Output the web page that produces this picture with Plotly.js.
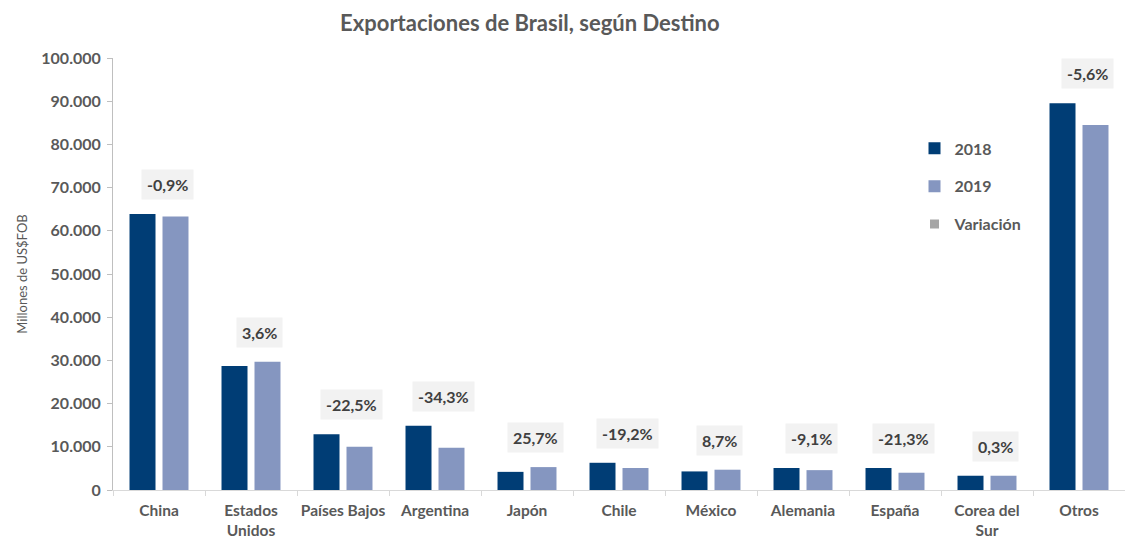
<!DOCTYPE html>
<html>
<head>
<meta charset="utf-8">
<script src="https://cdn.plot.ly/plotly-3.0.1.min.js"></script>
<style>html,body{margin:0;padding:0;background:#fff;}#chart{width:1125px;height:541px;}</style>
</head>
<body>
<div id="chart"></div>
<script>
const categories = ['China', 'Estados<br>Unidos', 'Países Bajos', 'Argentina', 'Japón', 'Chile', 'México', 'Alemania', 'España', 'Corea del<br>Sur', 'Otros'];
const exp2018 = [63900, 28700, 12900, 14900, 4200, 6300, 4300, 5100, 5100, 3300, 89500];
const exp2019 = [63300, 29700, 10000, 9800, 5300, 5100, 4700, 4600, 4000, 3300, 84500];
const variacion = [-0.9, 3.6, -22.5, -34.3, 25.7, -19.2, 8.7, -9.1, -21.3, 0.3, -5.6];
const yTicks = [0, 10000, 20000, 30000, 40000, 50000, 60000, 70000, 80000, 90000, 100000];

const FONT = 'Lato, "Open Sans", sans-serif';
const GRAY = '#595959';

const traces = [
  {type: 'bar', name: '2018', x: categories, y: exp2018, marker: {color: '#003d75'}, legendgroup: 'a', hoverinfo: 'y'},
  {type: 'bar', name: '2019', x: categories, y: exp2019, marker: {color: '#8596c0'}, legendgroup: 'b', hoverinfo: 'y'},
  {type: 'scatter', mode: 'markers', name: 'Variación', x: [null], y: [null], legendgroup: 'c',
   marker: {symbol: 'square', size: 9, color: '#a6a6a6'}}
];

const annotations = categories.map((c, i) => ({
  x: c, y: Math.max(exp2018[i], exp2019[i]), xref: 'x', yref: 'y',
  text: variacion[i].toFixed(1).replace('.', ',') + '%',
  showarrow: false, yanchor: 'bottom', xanchor: 'center', yshift: 14, xshift: 8,
  bgcolor: '#f2f2f2', borderpad: 5,
  font: {family: FONT, size: 16, color: '#404040', weight: 'bold'}
}));

const layout = {
  width: 1125, height: 541,
  margin: {l: 113, r: 0, t: 58, b: 51},
  paper_bgcolor: '#ffffff', plot_bgcolor: '#ffffff',
  separators: ',.',
  font: {family: FONT, color: GRAY},
  title: {text: 'Exportaciones de Brasil, según Destino', xref: 'container', x: 0.471, xanchor: 'center',
          yref: 'container', y: 0.957, yanchor: 'middle',
          font: {family: FONT, size: 22, color: GRAY, weight: 'bold'}},
  barmode: 'group', bargap: 0.283, bargroupgap: 0.212,
  showlegend: true,
  legend: {x: 0.792, y: 0.83, xanchor: 'left', yanchor: 'top', tracegroupgap: 14,
           font: {family: FONT, size: 16, color: GRAY, weight: 'bold'}, bgcolor: 'rgba(0,0,0,0)'},
  xaxis: {type: 'category', range: [-0.5, 10.5], showline: true, linecolor: '#d9d9d9', linewidth: 1,
          ticks: 'outside', tickson: 'boundaries', ticklen: 5, tickcolor: '#d9d9d9', tickangle: 0,
          showgrid: false, zeroline: false, fixedrange: true, ticklabelstandoff: 6,
          tickfont: {family: FONT, size: 15.5, color: GRAY, weight: 'bold'}},
  yaxis: {range: [0, 100000], tickvals: yTicks, tickformat: ',d', showline: true, linecolor: '#bfbfbf', linewidth: 1,
          ticks: 'outside', ticklen: 5, tickcolor: '#bfbfbf', showgrid: false, zeroline: false,
          ticklabelstandoff: 3, fixedrange: true,
          tickfont: {family: FONT, size: 16, color: GRAY, weight: 'bold'},
          title: {text: 'Millones de US$FOB', standoff: 10, font: {family: FONT, size: 13, color: GRAY}}},
  annotations: annotations
};

Plotly.newPlot('chart', traces, layout, {displayModeBar: false, staticPlot: true});
</script>
</body>
</html>
